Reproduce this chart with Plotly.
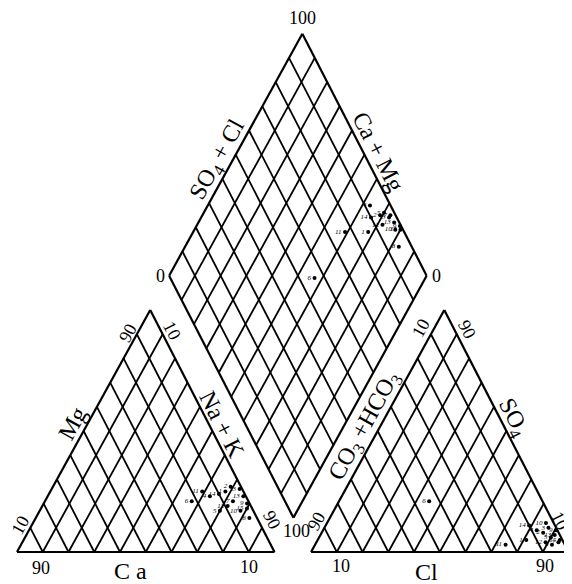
import numpy as np
import plotly.graph_objects as go

# Sample numbers and ionic composition (% meq)
sample_no = [1, 2, 3, 4, 5, 6, 7, 8, 9, 10, 11, 12, 13, 14, 15]
ca_pct = [7, 4, 1, 14, 13, 22, 6, 3, 1, 5, 16, 9, 1, 10, 2]
mg_pct = [25, 27, 26, 23, 17, 21, 21, 14, 20, 17, 25, 19, 23, 24, 18]
nak_pct = [68, 69, 73, 63, 70, 57, 73, 83, 79, 78, 59, 72, 76, 66, 80]
hco3_pct = [14, 6, 3, 8, 4, 44, 2, 5, 0.5, 3, 23, 7, 2, 10, 1]
so4_pct = [5, 8, 10, 9, 6, 21, 4, 3, 9, 12, 3, 4, 7, 11, 5]
cl_pct = [81, 86, 87, 83, 90, 35, 94, 92, 90.5, 85, 74, 89, 91, 79, 94]

grid_pct = [10, 20, 30, 40, 50, 60, 70, 80, 90]

# geometry of the Piper diagram (triangle side = 100)
S = np.sqrt(3) / 2
GAP = 14.2
SHEAR = 0.02   # the printed figure is slightly sheared
PX_X, PX_Y = 2.575, 2.794   # pixels per unit
BODY = 8                    # page margin around the plot div


def xy(u, v):
    return u + SHEAR * v, v


def left_tri(na, mg):
    return xy(na + mg / 2, mg * S)


def right_tri(cl, so4):
    return xy(100 + GAP + cl + so4 / 2, so4 * S)


def diamond(camg, so4cl):
    a, b = camg / 100, so4cl / 100
    return xy(100 + GAP / 2 + 50 * (b - a), GAP * S + 100 * S * (a + b))


grid_x, grid_y = [], []
edge_x, edge_y = [], []


def seg(f, p0, p1, xs, ys):
    x0, y0 = f(*p0)
    x1, y1 = f(*p1)
    xs += [x0, x1, None]
    ys += [y0, y1, None]


for k in grid_pct:
    seg(left_tri, (k, 0), (k, 100 - k), grid_x, grid_y)
    seg(left_tri, (100 - k, 0), (0, 100 - k), grid_x, grid_y)
    seg(right_tri, (k, 0), (k, 100 - k), grid_x, grid_y)
    seg(right_tri, (100 - k, 0), (0, 100 - k), grid_x, grid_y)
    seg(diamond, (k, 0), (k, 100), grid_x, grid_y)
    seg(diamond, (0, k), (100, k), grid_x, grid_y)

for f, pts in [(left_tri, [(0, 0), (100, 0), (0, 100), (0, 0)]),
               (right_tri, [(0, 0), (100, 0), (0, 100), (0, 0)]),
               (diamond, [(0, 0), (100, 0), (100, 100), (0, 100), (0, 0)])]:
    for p0, p1 in zip(pts[:-1], pts[1:]):
        seg(f, p0, p1, edge_x, edge_y)

fig = go.Figure()
fig.add_trace(go.Scatter(x=grid_x, y=grid_y, mode='lines', line=dict(color='black', width=1.8), hoverinfo='skip'))
fig.add_trace(go.Scatter(x=edge_x, y=edge_y, mode='lines', line=dict(color='black', width=2.2), hoverinfo='skip'))

camg = [c + m for c, m in zip(ca_pct, mg_pct)]
so4cl = [s + c for s, c in zip(so4_pct, cl_pct)]
cat = [left_tri(n, m) for n, m in zip(nak_pct, mg_pct)]
ani = [right_tri(c, s) for c, s in zip(cl_pct, so4_pct)]
dia = [diamond(a, b) for a, b in zip(camg, so4cl)]
labels = [str(n) for n in sample_no]

for pts in (cat, ani, dia):
    fig.add_trace(go.Scatter(
        x=[p[0] for p in pts], y=[p[1] for p in pts], mode='markers+text',
        text=labels, textposition='middle left',
        textfont=dict(family='Liberation Serif', size=7, color='black', style='italic'),
        marker=dict(color='black', size=4), hoverinfo='skip'))

TICK = 18
NAME = 24
UP, DOWN = -61, 63


def label(pt, text, size, angle, dx, dy):
    fig.add_annotation(x=pt[0], y=pt[1], text=text, showarrow=False, textangle=angle,
                       xshift=dx, yshift=dy, font=dict(family='Liberation Serif', size=size, color='black'))


# left (cation) triangle
label(left_tri(0, 10), '10', TICK, UP, -10, 3)
label(left_tri(0, 90), '90', TICK, UP, -9, 1)
label(left_tri(0, 54), 'Mg', NAME, UP, -16, -2)
label(left_tri(10, 90), '10', TICK, DOWN, 9, 4)
label(left_tri(90, 10), '90', TICK, DOWN, 10, 8)
label(left_tri(47.5, 52.5), 'Na + K', NAME, DOWN, 13, 0)
label(left_tri(10, 0), '90', TICK, 0, -2, -16)
label(left_tri(90, 0), '10', TICK, 0, 0, -15)
label(left_tri(44, 0), 'C a', NAME, 0, 0, -19)

# right (anion) triangle
label(right_tri(0, 10), '90', TICK, UP, -8, 7)
label(right_tri(0, 90), '10', TICK, UP, -10, 6)
label(right_tri(0, 52), 'CO<sub>3</sub> +HCO<sub>3</sub>', NAME, UP, -15, 0)
label(right_tri(10, 90), '90', TICK, DOWN, 10, 5)
label(right_tri(90, 10), '10', TICK, DOWN, 4, 7)
label(right_tri(44.6, 55.4), 'SO<sub>4</sub>', NAME, DOWN, 13, 0)
label(right_tri(10, 0), '10', TICK, 0, 4, -14)
label(right_tri(90, 0), '90', TICK, 0, 2, -14)
label(right_tri(45, 0), 'Cl', NAME, 0, 0, -20)

# diamond
label(diamond(100, 100), '100', TICK, 0, 0, 16)
label(diamond(100, 0), '0', TICK, 0, -9, 0)
label(diamond(0, 100), '0', TICK, 0, 10, 0)
label(diamond(0, 0), '100', TICK, 0, 3, -13)
label(diamond(100, 48), 'SO<sub>4</sub> + Cl', NAME, UP, -15, 0)
label(diamond(51, 100), 'Ca + Mg', NAME, DOWN, 15, 0)

fig.update_layout(
    width=572, height=584, autosize=False, showlegend=False,
    margin=dict(l=0, r=0, t=0, b=0),
    paper_bgcolor='white', plot_bgcolor='white',
    xaxis=dict(range=[(BODY - 17) / PX_X, (572 + BODY - 17) / PX_X], visible=False, fixedrange=True),
    yaxis=dict(range=[(552 - 584 - BODY) / PX_Y, (552 - BODY) / PX_Y], visible=False, fixedrange=True),
)

fig.write_html("out.html", config={'displayModeBar': False})
